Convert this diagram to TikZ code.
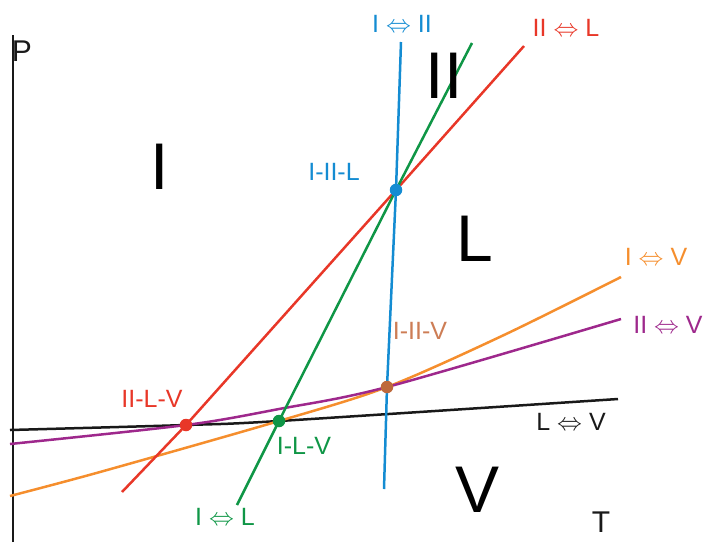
\documentclass[tikz,border=0pt]{standalone}
\usepackage{fontspec}
\setmainfont{Liberation Sans}
\definecolor{CurvIII}{RGB}{20,140,210}
\definecolor{CurvIIL}{RGB}{232,55,40}
\definecolor{CurvIL}{RGB}{15,150,70}
\definecolor{CurvIV}{RGB}{245,142,45}
\definecolor{CurvIIV}{RGB}{158,40,140}
\definecolor{CurvLV}{RGB}{25,25,25}
\definecolor{PtIIIV}{RGB}{190,105,60}
\definecolor{TxtIIIV}{RGB}{205,125,85}

\begin{document}
\begin{tikzpicture}[x=1pt,y=-1pt,line width=2.5pt,
  every node/.style={font=\fontsize{25}{28}\selectfont},
  fase/.style={font=\fontsize{66}{70}\selectfont},
  eixo/.style={font=\fontsize{30}{34}\selectfont,inner sep=0pt},
  ponto/.style={circle,fill,inner sep=0pt,minimum size=12.5pt}]
\useasboundingbox(0,0)rectangle(705,542);
% pontos triplos
\coordinate(iilv)at(186,425);\coordinate(ilv)at(279,421);
\coordinate(iil)at(396,190);\coordinate(iiiv)at(387,387);
% eixos
\coordinate(p0)at(13,542);\coordinate(p1)at(13,35);
\draw[CurvLV,line width=2.5pt](p0)--(p1);
\node[eixo,CurvLV](lP)at(22,51){P};
\node[eixo,CurvLV](lT)at(601,522){T};
% linhas de equilibrio
\coordinate(lv0)at(10,430);\coordinate(lv1)at(618,399);
\draw[CurvLV]plot[smooth]coordinates{(lv0)(iilv)(ilv)(lv1)};
\coordinate(iv0)at(10,496);\coordinate(iv1)at(621,277);
\draw[CurvIV]plot[smooth]coordinates{(iv0)(100,472)(ilv)(iiiv)(504,335)(iv1)};
\coordinate(iiv0)at(10,444);\coordinate(iiv1)at(621,319);
\draw[CurvIIV]plot[smooth]coordinates{(iiv0)(iilv)(279,409)(iiiv)(iiv1)};
\coordinate(iil0)at(122,492);\coordinate(iil1)at(524,46);
\draw[CurvIIL](iil0)--(iilv)--(iil)--(iil1);
\coordinate(il0)at(237,505);\coordinate(il1)at(472,43);
\draw[CurvIL](il0)--(ilv)--(iil)--(il1);
\coordinate(iii0)at(384,489);\coordinate(iii1)at(401,42);
\draw[CurvIII](iii0)--(iiiv)--(iil)--(iii1);
\node[ponto,CurvIIL](dIILV)at(iilv){};
\node[ponto,CurvIL](dILV)at(ilv){};
\node[ponto,CurvIII](dIIIL)at(iil){};
\node[ponto,PtIIIV](dIIIV)at(iiiv){};
% fases
\node[fase](fI)at(160,167){I};
\node[fase](fII)at(444,76){II};
\node[fase](fL)at(475,239){L};
\node[fase](fV)at(478,490){V};
% rotulos
\node[CurvIII](lIII)at(402,24){I $\Leftrightarrow$ II};
\node[CurvIIL](lIIL)at(566,28){II $\Leftrightarrow$ L};
\node[CurvIII](lIIIL)at(334,172){I-II-L};
\node[TxtIIIV](lIIIV)at(420,331){I-II-V};
\node[CurvIV](lIV)at(656,257){I $\Leftrightarrow$ V};
\node[CurvIIV](lIIV)at(668,325){II $\Leftrightarrow$ V};
\node[CurvLV](lLV)at(571,422){L $\Leftrightarrow$ V};
\node[CurvIIL](lIILV)at(152,399){II-L-V};
\node[CurvIL](lILV)at(304,446){I-L-V};
\node[CurvIL](lIL)at(225,517){I $\Leftrightarrow$ L};
\end{tikzpicture}
\end{document}
